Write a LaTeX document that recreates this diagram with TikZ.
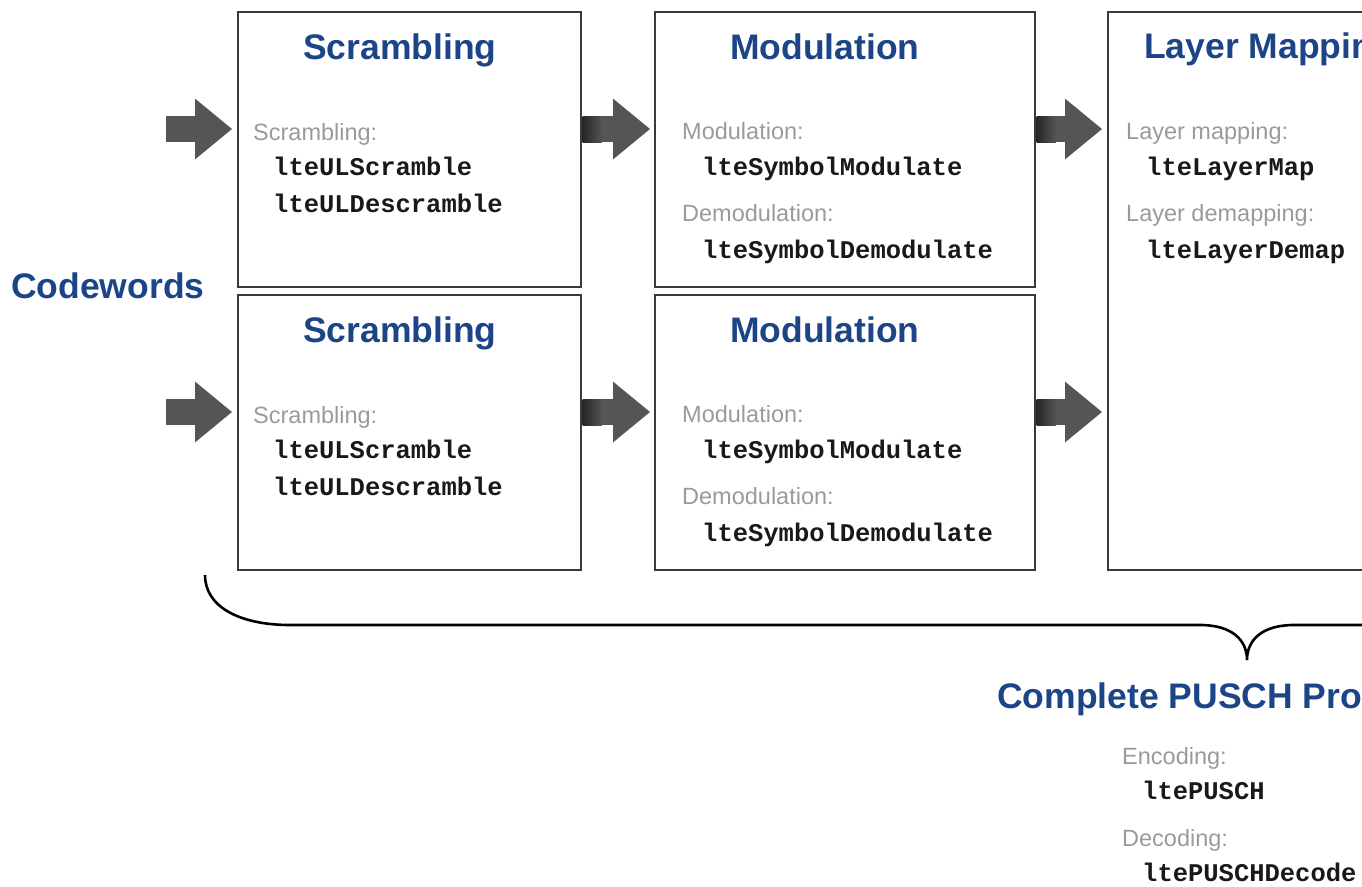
\documentclass[tikz,border=0pt]{standalone}
\usepackage{fontspec}
\setmainfont{Liberation Sans}
\newfontfamily\codefont{Liberation Mono}
\usetikzlibrary{arrows.meta,calc}
\definecolor{titleblue}{HTML}{1C4587}
\definecolor{labelgray}{HTML}{9A9A9A}
\definecolor{arrowgray}{HTML}{555555}
\definecolor{boxgray}{HTML}{3A3A3A}
\newcommand{\ttl}{\fontsize{35.5}{40}\selectfont\bfseries}
\newcommand{\lbl}{\fontsize{23.5}{28}\selectfont}
\newcommand{\cde}{\fontsize{25.5}{30}\selectfont\codefont\bfseries}
\tikzset{
  block/.style={draw=boxgray, line width=1.6pt, inner sep=0pt},
  title/.style={anchor=base west, inner sep=0pt, text=titleblue, font=\ttl},
  lab/.style={anchor=base west, inner sep=0pt, text=labelgray, font=\lbl},
  code/.style={anchor=base west, inner sep=0pt, text=black!90, font=\cde},
  bigarrow/.style={arrowgray, line width=26pt, -{Triangle[length=37pt,width=58pt]}},
  darkend/.style={left color=black!85, right color=arrowgray, draw=none}
}

\begin{document}
\begin{tikzpicture}[x=1pt,y=-1pt]
   \useasboundingbox (0,0) rectangle (1362,886);
   \clip (0,0) rectangle (1362,886);
   \node[block, minimum width=343pt, minimum height=275pt] (scr1) at ( 409.5,149.5) {};
   \node[block, minimum width=343pt, minimum height=275pt] (scr2) at ( 409.5,432.5) {};
   \node[block, minimum width=380pt, minimum height=275pt] (mod1) at ( 845.0,149.5) {};
   \node[block, minimum width=380pt, minimum height=275pt] (mod2) at ( 845.0,432.5) {};
   \node[block, minimum width=380pt, minimum height=558pt] (lay)  at (1298.0,291.0) {};
   \coordinate (in1) at (166,129);
   \coordinate (in2) at (166,412);
   \draw[bigarrow, shorten >=5pt] (in1) -- (in1 -| scr1.west);
   \draw[bigarrow, shorten >=5pt] (in2) -- (in2 -| scr2.west);
   \draw[bigarrow, shorten <=0.8pt, shorten >=4pt] (in1 -| scr1.east) -- (in1 -| mod1.west);
   \draw[bigarrow, shorten <=0.8pt, shorten >=4pt] (in2 -| scr2.east) -- (in2 -| mod2.west);
   \draw[bigarrow, shorten <=0.8pt, shorten >=5pt] (in1 -| mod1.east) -- (in1 -| lay.west);
   \draw[bigarrow, shorten <=0.8pt, shorten >=5pt] (in2 -| mod2.east) -- (in2 -| lay.west);
   \shade[darkend] ($(in1 -| scr1.east)+(0.8,-13)$) rectangle ($(in1 -| scr1.east)+(20,13)$);
   \shade[darkend] ($(in2 -| scr2.east)+(0.8,-13)$) rectangle ($(in2 -| scr2.east)+(20,13)$);
   \shade[darkend] ($(in1 -| mod1.east)+(0.8,-13)$) rectangle ($(in1 -| mod1.east)+(20,13)$);
   \shade[darkend] ($(in2 -| mod2.east)+(0.8,-13)$) rectangle ($(in2 -| mod2.east)+(20,13)$);
   \draw[line width=2.6pt]
    (205,575) .. controls (205,607) and (240,625) .. (290,625) -- (1200,625)
    .. controls (1232,625) and (1247,640) .. (1247,660)
    .. controls (1247,640) and (1262,625) .. (1294,625) -- (2204,625)
    .. controls (2254,625) and (2289,607) .. (2289,575);
   \node[title] (cw)    at (  11,298.0) {Codewords};
   \node[title] (scr1t) at ( 303, 59.0) {Scrambling};
   \node[lab]   (scr1a) at ( 253,140.0) {Scrambling:};
   \node[code]  (scr1b) at ( 273,175.5) {lteULScramble};
   \node[code]  (scr1c) at ( 273,212.5) {lteULDescramble};
   \node[title] (scr2t) at ( 303,342.0) {Scrambling};
   \node[lab]   (scr2a) at ( 253,423.0) {Scrambling:};
   \node[code]  (scr2b) at ( 273,458.5) {lteULScramble};
   \node[code]  (scr2c) at ( 273,495.5) {lteULDescramble};
   \node[title] (mod1t) at ( 730, 59.0) {Modulation};
   \node[lab]   (mod1a) at ( 682,139.0) {Modulation:};
   \node[code]  (mod1b) at ( 702,175.5) {lteSymbolModulate};
   \node[lab]   (mod1c) at ( 682,221.0) {Demodulation:};
   \node[code]  (mod1d) at ( 702,258.5) {lteSymbolDemodulate};
   \node[title] (mod2t) at ( 730,342.0) {Modulation};
   \node[lab]   (mod2a) at ( 682,422.0) {Modulation:};
   \node[code]  (mod2b) at ( 702,458.5) {lteSymbolModulate};
   \node[lab]   (mod2c) at ( 682,504.0) {Demodulation:};
   \node[code]  (mod2d) at ( 702,541.5) {lteSymbolDemodulate};
   \node[title] (layt)  at (1144, 58.5) {Layer Mapping};
   \node[lab]   (laya)  at (1126,139.0) {Layer mapping:};
   \node[code]  (layb)  at (1146,175.5) {lteLayerMap};
   \node[lab]   (layc)  at (1126,221.0) {Layer demapping:};
   \node[code]  (layd)  at (1146,258.5) {lteLayerDemap};
   \node[title] (pusch) at ( 997,708.0) {Complete PUSCH Processing};
   \node[lab]   (enc)   at (1122,764.0) {Encoding:};
   \node[code]  (encb)  at (1142,799.0) {ltePUSCH};
   \node[lab]   (dec)   at (1122,846.5) {Decoding:};
   \node[code]  (decb)  at (1142,881.0) {ltePUSCHDecode};
\end{tikzpicture}
\end{document}
